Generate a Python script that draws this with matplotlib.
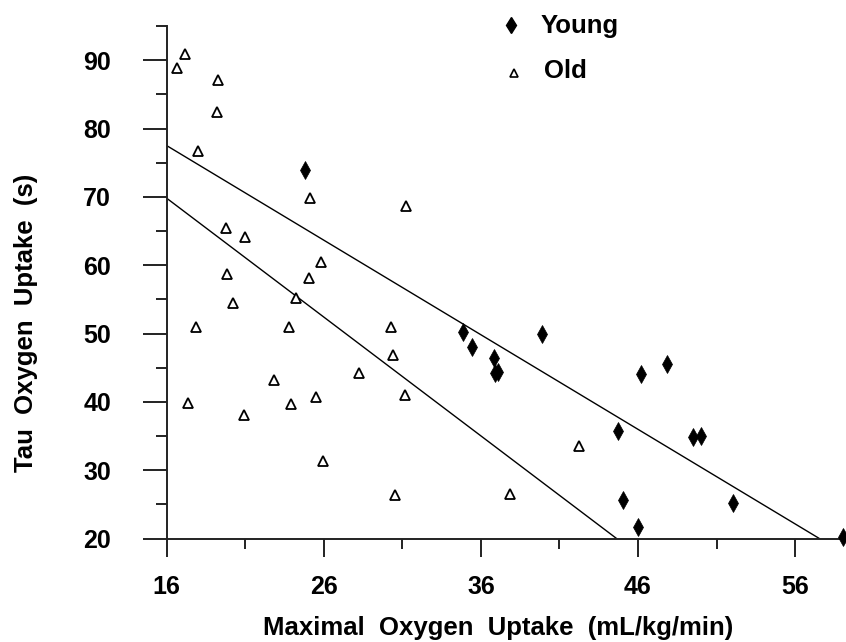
import matplotlib
matplotlib.use("Agg")
import matplotlib.pyplot as plt
import numpy as np
from matplotlib.lines import Line2D

# ---- data ----
young_vo2 = [24.80, 34.88, 35.41, 36.83, 36.90, 37.11, 39.87, 46.19, 47.87,
             44.75, 49.52, 49.99, 45.03, 52.03, 46.02, 59.07]
young_tau = [73.87, 50.23, 48.04, 46.35, 44.15, 44.39, 50.00, 44.01, 45.47,
             35.72, 34.88, 35.03, 25.63, 25.23, 21.64, 20.26]

old_vo2 = [17.18, 16.67, 19.28, 19.22, 18.01, 25.10, 31.21, 19.77, 20.96,
           25.82, 19.82, 25.06, 24.23, 20.20, 17.85, 23.77, 22.85, 23.89,
           17.37, 20.90, 30.30, 30.43, 28.24, 25.50, 31.15, 25.97, 30.51,
           42.24, 37.83]
old_tau = [90.94, 88.83, 87.13, 82.35, 76.70, 69.88, 68.71, 65.40, 64.08,
           60.47, 58.71, 58.13, 55.20, 54.47, 50.96, 50.96, 43.17, 39.62,
           39.85, 38.10, 50.92, 46.83, 44.24, 40.69, 40.94, 31.37, 26.36,
           33.48, 26.55]

# regression lines: tau = intercept + slope * vo2
young_fit = (99.64, -1.384)
old_fit = (97.62, -1.739)

x_major = [16, 26, 36, 46, 56]
x_minor = [21, 31, 41, 51]
y_major = [20, 30, 40, 50, 60, 70, 80, 90]
y_minor = [25, 35, 45, 55, 65, 75, 85, 95]

legend_labels = ['Young', 'Old']
xlabel = "Maximal  Oxygen  Uptake  (mL/kg/min)"
ylabel = "Tau  Oxygen  Uptake  (s)"

# ---- figure ----
plt.rcParams['font.family'] = ['Liberation Sans', 'DejaVu Sans']
W, H = 846, 642
fig = plt.figure(figsize=(W / 100, H / 100), dpi=100)
ax = fig.add_axes([166.7 / W, (H - 538.5) / H,
                   (W - 166.7) / W, (538.5 - 26) / H])
XMIN, XMAX = 16, 59.24
YMIN, YMAX = 20, 95
ax.set_xlim(XMIN, XMAX)
ax.set_ylim(YMIN, YMAX)

for a, b in (young_fit, old_fit):
    x_end = (YMIN - a) / b
    xs = np.array([XMIN, x_end])
    ax.plot(xs, a + b * xs, color='black', lw=1.0, zorder=2)

ax.plot(old_vo2, old_tau, linestyle='none', marker='^', ms=7,
        mfc='white', mec='black', mew=1.3, zorder=3, clip_on=False)
ax.plot(young_vo2, young_tau, linestyle='none', marker='d', ms=9,
        mfc='black', mec='black', mew=0.5, zorder=4, clip_on=False)

for s in ('top', 'right'):
    ax.spines[s].set_visible(False)
for s in ('left', 'bottom'):
    ax.spines[s].set_linewidth(1.4)
    ax.spines[s].set_color('#222222')

ax.set_xticks(x_major)
ax.set_xticks(x_minor, minor=True)
ax.set_yticks(y_major)
ax.set_yticks(y_minor, minor=True)
ax.tick_params(axis='y', which='major', direction='out', length=17, width=1.4,
               pad=23, labelsize=18, color='#222222')
ax.tick_params(axis='y', which='minor', direction='out', length=8, width=1.4,
               color='#222222')
ax.tick_params(axis='x', which='major', direction='out', length=13, width=1.4,
               pad=13, labelsize=18, color='#222222')
ax.tick_params(axis='x', which='minor', direction='out', length=7, width=1.4,
               color='#222222')
for lab in ax.get_xticklabels() + ax.get_yticklabels():
    lab.set_fontweight('bold')

fig.text(498 / W, (H - 628) / H, xlabel, ha='center', va='center',
         fontsize=18.5, fontweight='bold')
fig.text(26 / W, (H - 323) / H, ylabel, ha='center', va='center',
         rotation=90, fontsize=18.5, fontweight='bold')

# legend (drawn in figure pixel positions)
fig.add_artist(Line2D([511 / W], [(H - 25) / H], transform=fig.transFigure,
                      linestyle='none', marker='d', ms=8, mfc='black', mec='black'))
fig.add_artist(Line2D([514 / W], [(H - 72.5) / H], transform=fig.transFigure,
                      linestyle='none', marker='^', ms=6, mfc='white', mec='black',
                      mew=1.2))
fig.text(541 / W, (H - 26.5) / H, legend_labels[0], ha='left', va='center',
         fontsize=18.5, fontweight='bold')
fig.text(544 / W, (H - 71.5) / H, legend_labels[1], ha='left', va='center',
         fontsize=18.5, fontweight='bold')

fig.savefig('out.png', dpi=100)
